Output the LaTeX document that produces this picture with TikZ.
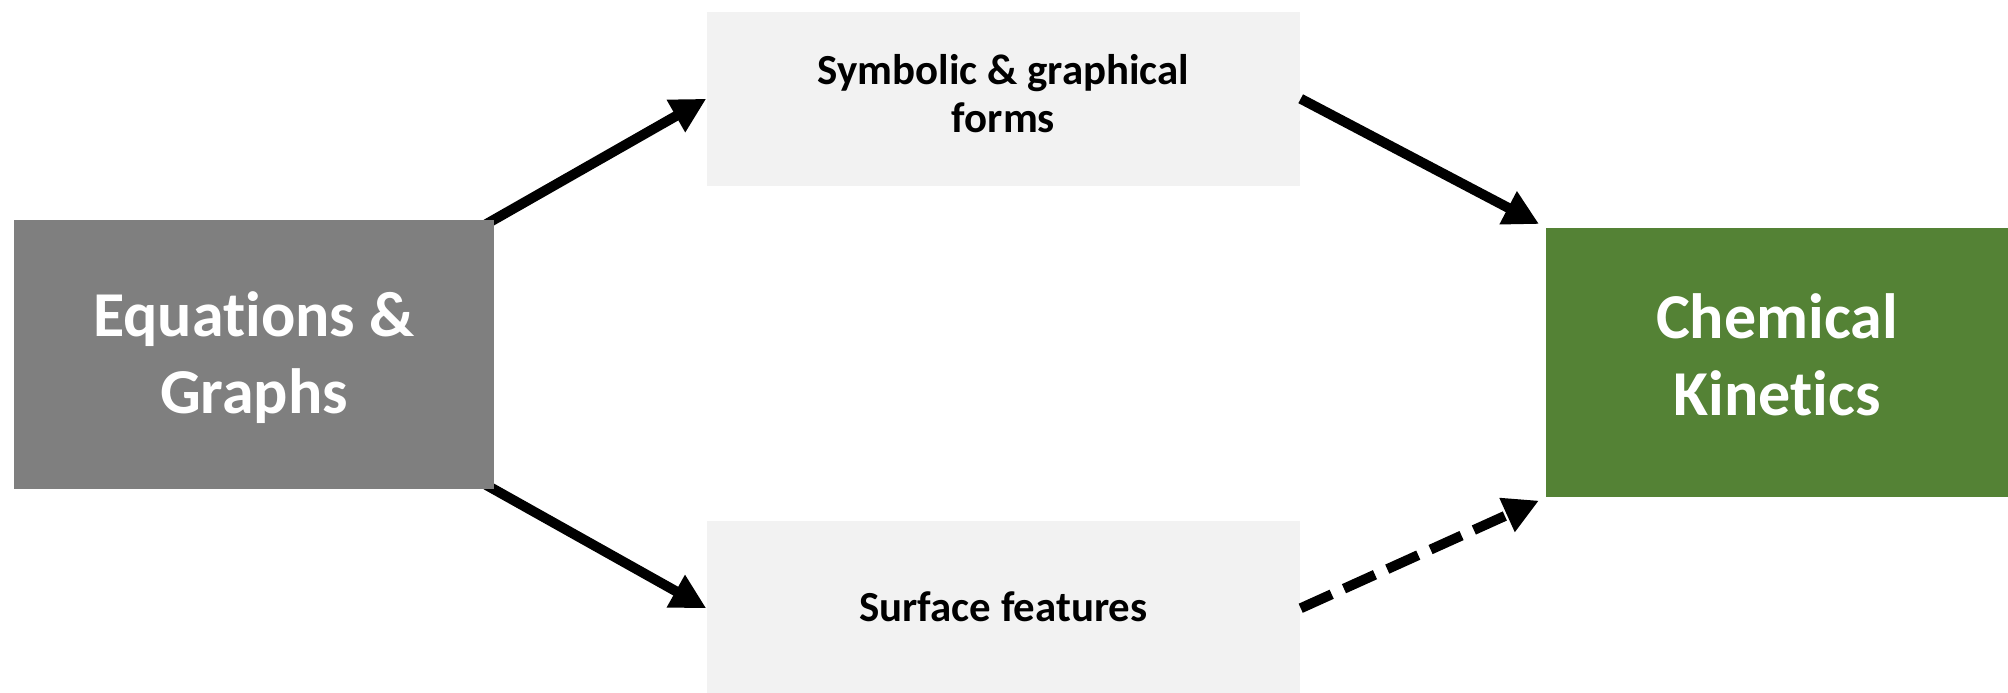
\documentclass[tikz,border=0pt]{standalone}
\usepackage{fontspec}
\setmainfont{Carlito}[Ligatures=NoCommon]
\usetikzlibrary{arrows.meta,backgrounds}
\definecolor{grisfonce}{HTML}{7F7F7F}
\definecolor{grisclair}{HTML}{F2F2F2}
\definecolor{vert}{HTML}{548235}
\tikzset{boite/.style={rectangle, inner sep=0pt, align=center},
         gros/.style={boite, text=white, minimum width=4.8cm, minimum height=2.69cm,
                      text height=1.17cm, text depth=0cm,
                      font=\bfseries\fontsize{18.2}{21.8}\selectfont},
         petit/.style={boite, fill=grisclair, minimum width=5.93cm, minimum height=1.745cm,
                       text height=0.665cm, text depth=0cm,
                       font=\bfseries\fontsize{12.2}{13.6}\selectfont},
         fleche/.style={line width=1mm, -{Triangle[length=3.5mm,width=3.5mm]}}}
\newcommand{\cadre}{\clip (0,0) rectangle (20.08,6.92);}

\begin{document}
\begin{tikzpicture}
  \cadre
  \node[gros, fill=grisfonce] (eqn) at (2.54,3.375) {Equations \&\\Graphs};
  \node[petit] (sym) at (10.035,5.9325) {Symbolic \& graphical\\forms};
  \node[petit, text height=0.3cm, text depth=0.03cm] (surf) at (10.035,0.8375) {Surface features};
  \node[gros, fill=vert, minimum width=4.62cm, text height=1.05cm] (kin) at (17.77,3.295) {Chemical\\Kinetics};
  \begin{scope}[on background layer]
    \draw[fleche, shorten <=-1mm] (eqn.north east) -- (sym.west);
    \draw[fleche, shorten <=-1mm] (eqn.south east) -- (surf.west);
  \end{scope}
  \draw[fleche, shorten >=0.7mm] (sym.east) -- (kin.north west);
  \draw[fleche, shorten >=0.7mm, dash pattern=on 3.4mm off 1.35mm] (surf.east) -- (kin.south west);
\end{tikzpicture}
\end{document}
